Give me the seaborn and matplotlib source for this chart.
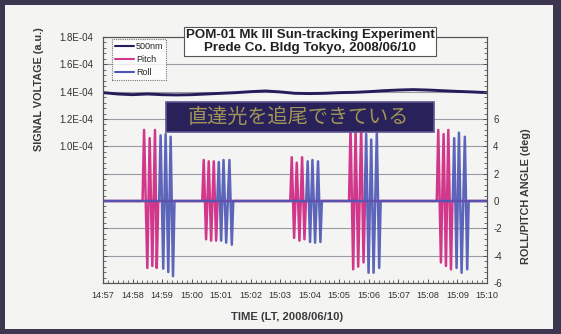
import matplotlib
matplotlib.use("Agg")
import matplotlib.pyplot as plt
import numpy as np
import pandas as pd
import seaborn as sns
from matplotlib.patches import Rectangle
from matplotlib.lines import Line2D
from matplotlib.ticker import MultipleLocator, FuncFormatter

# ---- data (time in minutes after 14:57 LT) ----
time_labels = ["14:57", "14:58", "14:59", "15:00", "15:01", "15:02", "15:03",
               "15:04", "15:05", "15:06", "15:07", "15:08", "15:09", "15:10"]

sig_min = [0.0, 0.5, 1.0, 1.5, 2.0, 2.5, 3.0, 3.5, 4.0, 4.5, 5.0, 5.5, 6.0, 6.5,
           7.0, 7.5, 8.0, 8.5, 9.0, 9.5, 10.0, 10.5, 11.0, 11.5, 12.0, 12.5, 13.0]
sig_500nm = [1.393e-4, 1.383e-4, 1.378e-4, 1.383e-4, 1.378e-4, 1.376e-4, 1.378e-4,
             1.383e-4, 1.388e-4, 1.393e-4, 1.400e-4, 1.405e-4, 1.398e-4, 1.388e-4,
             1.386e-4, 1.388e-4, 1.393e-4, 1.395e-4, 1.400e-4, 1.407e-4, 1.412e-4,
             1.415e-4, 1.412e-4, 1.407e-4, 1.402e-4, 1.398e-4, 1.393e-4]

pitch_min = [0.0,
             1.34, 1.39, 1.50, 1.58, 1.67, 1.76, 1.82, 1.87,
             3.36, 3.41, 3.49, 3.58, 3.66, 3.75, 3.83, 3.88,
             6.34, 6.39, 6.47, 6.56, 6.65, 6.74, 6.82, 6.87,
             8.33, 8.38, 8.47, 8.55, 8.64, 8.74, 8.82, 8.87,
             11.30, 11.35, 11.44, 11.53, 11.61, 11.69, 11.78, 11.83,
             13.0]
pitch_deg = [0.0,
             0.0, 5.2, -4.9, 4.6, -4.75, 5.2, -4.9, 0.0,
             0.0, 3.0, -2.8, 2.9, -2.9, 2.9, -2.9, 0.0,
             0.0, 3.2, -2.7, 2.8, -2.9, 3.2, -2.8, 0.0,
             0.0, 5.4, -5.0, 5.2, -4.8, 5.4, -4.5, 0.0,
             0.0, 5.2, -4.5, 4.9, -4.75, 5.2, -5.0, 0.0,
             0.0]

roll_min = [0.0,
            1.90, 1.95, 2.04, 2.12, 2.21, 2.29, 2.37, 2.42,
            3.87, 3.92, 4.00, 4.08, 4.17, 4.28, 4.36, 4.41,
            6.88, 6.93, 7.01, 7.09, 7.18, 7.28, 7.36, 7.41,
            8.86, 8.91, 8.99, 9.08, 9.16, 9.27, 9.35, 9.40,
            11.84, 11.89, 11.97, 12.05, 12.14, 12.25, 12.33, 12.38,
            13.0]
roll_deg = [0.0,
            0.0, 4.8, -4.95, 4.9, -5.2, 4.7, -5.5, 0.0,
            0.0, 2.85, -2.9, 3.0, -3.05, 3.0, -3.2, 0.0,
            0.0, 2.9, -3.0, 3.0, -3.05, 2.9, -3.0, 0.0,
            0.0, 4.9, -5.25, 4.5, -5.25, 5.0, -4.9, 0.0,
            0.0, 4.6, -4.9, 5.0, -5.25, 4.7, -5.0, 0.0,
            0.0]

series_names = ["500nm", "Pitch", "Roll"]
series_colors = ["#241d5a", "#d1378a", "#4c56b4"]

df_sig = pd.DataFrame({"t": sig_min, "v": sig_500nm})
df_pitch = pd.DataFrame({"t": pitch_min, "v": pitch_deg})
df_roll = pd.DataFrame({"t": roll_min, "v": roll_deg})

# ---- style ----
sns.set_style("ticks")
plt.rcParams["font.family"] = ["Liberation Sans", "DejaVu Sans"]
plt.rcParams["axes.unicode_minus"] = False

W, H = 561, 334
fig = plt.figure(figsize=(W / 100, H / 100), dpi=100)
fig.patch.set_facecolor("#3d3650")
fig.add_artist(Rectangle((5 / W, 1 - 329 / H), 548 / W, 324 / H,
                         transform=fig.transFigure, facecolor="#f4f4f2",
                         edgecolor="none", zorder=-10))

ax = fig.add_axes([103 / W, 1 - 283 / H, 384 / W, 246 / H])
ax.set_facecolor("none")

# signal voltage on the left axis
sns.lineplot(data=df_sig, x="t", y="v", ax=ax, color=series_colors[0],
             lw=2.1, estimator=None, sort=False)
ax.set_xlim(0, 13)
ax.set_ylim(0, 1.8e-4)
ax.yaxis.set_major_locator(MultipleLocator(2e-5))
ax.yaxis.set_minor_locator(MultipleLocator(0.4e-5))
ax.yaxis.set_major_formatter(FuncFormatter(lambda v, _: f"{v:.1E}" if v > 0.99e-4 else ""))
ax.set_xticks(range(len(time_labels)))
ax.set_xticklabels(time_labels)
ax.xaxis.set_minor_locator(MultipleLocator(1 / 6))
ax.yaxis.grid(True, color="#9a9aa4", lw=0.8)
ax.set_axisbelow(True)
ax.set_xlabel("")
ax.set_ylabel("")

# roll / pitch angles on the right axis
ax2 = ax.twinx()
sns.lineplot(data=df_pitch, x="t", y="v", ax=ax2, color=series_colors[1],
             lw=1.8, estimator=None, sort=False)
sns.lineplot(data=df_roll, x="t", y="v", ax=ax2, color=series_colors[2],
             lw=1.8, alpha=0.9, estimator=None, sort=False)
ax2.set_ylim(-6, 12)
ax2.yaxis.set_major_locator(MultipleLocator(2))
ax2.yaxis.set_minor_locator(MultipleLocator(0.4))
ax2.yaxis.set_major_formatter(FuncFormatter(lambda v, _: f"{int(round(v))}" if v < 6.5 else ""))
ax2.set_xlabel("")
ax2.set_ylabel("")

for a in (ax, ax2):
    for s in a.spines.values():
        s.set_visible(True)
        s.set_color("#555555")
        s.set_linewidth(0.8)
    a.tick_params(which="both", direction="in", colors="#555555",
                  labelcolor="#333333", labelsize=7.0)
    a.tick_params(which="major", length=3, width=0.7)
    a.tick_params(which="minor", length=2, width=0.6)
ax.tick_params(axis="x", labelsize=6.6, pad=6)
ax.tick_params(axis="y", pad=7)
ax2.tick_params(axis="y", pad=4.5)

# legend
handles = [Line2D([], [], color=c, lw=1.5) for c in series_colors]
leg = ax2.legend(handles, series_names, loc="upper left",
                 bbox_to_anchor=(0.023, 0.992), fontsize=6.5, frameon=True,
                 fancybox=False, edgecolor="#555555", handlelength=2.1,
                 handletextpad=0.2, borderpad=0.35, labelspacing=0.45,
                 borderaxespad=0)
leg.get_frame().set_linestyle((0, (1, 1)))
leg.get_frame().set_linewidth(0.8)
leg.get_frame().set_facecolor("white")

# title box
fig.text(310 / W, 1 - 41.5 / H,
         "POM-01 Mk III Sun-tracking Experiment\nPrede Co. Bldg Tokyo, 2008/06/10",
         ha="center", va="center", fontsize=9.6, fontweight="bold",
         color="#222222", linespacing=1.1, zorder=6,
         bbox=dict(boxstyle="square,pad=0.15", fc="white", ec="#555555", lw=0.8))

# caption banner
fig.add_artist(Rectangle((166 / W, 1 - 132 / H), 268 / W, 30 / H,
                         transform=fig.transFigure, facecolor="#28215a",
                         edgecolor="#5e5590", lw=1.2, zorder=5))
fig.text(298 / W, 1 - 117 / H, "直達光を追尾できている",
         family=["Noto Sans CJK JP", "DejaVu Sans"], fontsize=14.5,
         color="#a09458", ha="center", va="center", zorder=6)

# axis titles
fig.text(39 / W, 1 - 89 / H, "SIGNAL VOLTAGE (a.u.)", rotation=90,
         ha="center", va="center", fontsize=7.8, fontweight="bold", color="#3a3a3a")
fig.text(526 / W, 1 - 196 / H, "ROLL/PITCH ANGLE (deg)", rotation=90,
         ha="center", va="center", fontsize=7.8, fontweight="bold", color="#3a3a3a")
fig.text(287 / W, 1 - 317 / H, "TIME (LT, 2008/06/10)",
         ha="center", va="center", fontsize=8.1, fontweight="bold", color="#3a3a3a")

fig.savefig("out.png", dpi=100, facecolor=fig.get_facecolor())
